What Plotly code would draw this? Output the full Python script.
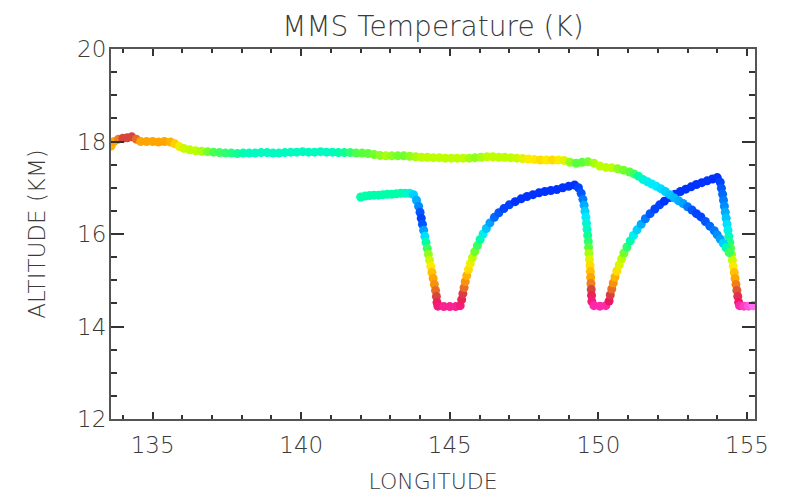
import plotly.graph_objects as go

# ---------------- data ----------------
upper_lon = [133.60, 133.70, 133.85, 134.00, 134.15, 134.30, 134.45, 134.60, 134.80, 135.00,
             135.20, 135.40, 135.60, 135.75, 135.90, 136.05, 136.25, 136.45, 136.65, 136.85,
             137.05, 137.25, 137.45, 137.65, 137.85, 138.05, 138.25, 138.45, 138.65, 138.85,
             139.05, 139.25, 139.45, 139.65, 139.85, 140.05, 140.25, 140.45, 140.65, 140.85,
             141.05, 141.25, 141.45, 141.65, 141.85, 142.05, 142.25, 142.45, 142.65, 142.85,
             143.05, 143.25, 143.45, 143.65, 143.85, 144.05, 144.25, 144.45, 144.65, 144.85,
             145.05, 145.25, 145.45, 145.65, 145.85, 146.05, 146.25, 146.45, 146.65, 146.85,
             147.05, 147.25, 147.45, 147.65, 147.85, 148.05, 148.25, 148.45, 148.65, 148.85,
             149.05, 149.25, 149.45, 149.65, 149.85, 150.05, 150.25, 150.45, 150.65, 150.85,
             151.05, 151.20, 151.35, 151.50, 151.65, 151.80, 151.95, 152.10, 152.25, 152.40,
             152.55, 152.70, 152.85, 153.00, 153.15, 153.30, 153.45, 153.60, 153.75, 153.90,
             154.00, 154.10, 154.20, 154.30, 154.40]
upper_alt = [17.90, 18.00, 18.05, 18.07, 18.08, 18.10, 18.05, 18.00, 18.00, 18.00,
             17.99, 18.00, 17.99, 17.95, 17.89, 17.85, 17.82, 17.80, 17.79, 17.78,
             17.77, 17.76, 17.75, 17.75, 17.74, 17.75, 17.75, 17.75, 17.76, 17.76,
             17.75, 17.75, 17.76, 17.77, 17.77, 17.78, 17.77, 17.77, 17.78, 17.77,
             17.77, 17.76, 17.76, 17.76, 17.75, 17.75, 17.74, 17.72, 17.70, 17.69,
             17.69, 17.69, 17.69, 17.68, 17.67, 17.66, 17.66, 17.65, 17.65, 17.64,
             17.64, 17.64, 17.64, 17.64, 17.65, 17.66, 17.67, 17.67, 17.66, 17.66,
             17.65, 17.64, 17.63, 17.62, 17.61, 17.60, 17.60, 17.60, 17.60, 17.59,
             17.55, 17.53, 17.55, 17.56, 17.53, 17.47, 17.44, 17.43, 17.41, 17.38,
             17.34, 17.30, 17.25, 17.18, 17.13, 17.08, 17.03, 16.98, 16.92, 16.85,
             16.78, 16.72, 16.66, 16.59, 16.52, 16.44, 16.37, 16.27, 16.17, 16.07,
             15.98, 15.89, 15.80, 15.70, 15.60]
upper_temp = [207.0, 207.5, 208.5, 210.0, 210.0, 210.0, 209.0, 207.5, 207.5, 207.5,
              207.5, 207.5, 207.0, 206.0, 204.5, 203.5, 203.0, 203.0, 202.5, 201.5,
              200.5, 200.0, 199.5, 199.0, 198.5, 198.0, 197.5, 197.5, 197.5, 197.5,
              197.5, 197.5, 197.5, 197.5, 197.5, 197.5, 197.5, 197.5, 197.5, 197.5,
              197.5, 198.0, 198.5, 199.5, 200.5, 201.0, 201.0, 201.5, 202.0, 202.5,
              202.0, 201.5, 201.5, 202.0, 202.5, 203.0, 203.0, 203.0, 203.0, 203.0,
              203.0, 203.0, 203.0, 202.5, 202.0, 202.5, 203.0, 203.0, 203.0, 203.0,
              203.0, 203.5, 204.0, 205.0, 205.0, 205.5, 205.0, 205.5, 205.0, 204.0,
              202.0, 201.0, 201.0, 201.5, 202.5, 203.0, 203.0, 203.0, 202.0, 201.5,
              201.0, 200.0, 198.0, 197.0, 196.5, 196.0, 196.0, 195.5, 195.0, 194.5,
              194.0, 193.5, 193.0, 192.0, 191.0, 190.5, 190.5, 191.0, 191.5, 192.0,
              192.5, 193.0, 195.0, 198.0, 200.0]

lower_lon = [142.00, 142.15, 142.30, 142.45, 142.60, 142.75, 142.90, 143.05, 143.20, 143.35,
             143.50, 143.65, 143.78, 143.88, 143.95, 144.00, 144.04, 144.08, 144.12, 144.16,
             144.20, 144.24, 144.28, 144.32, 144.36, 144.40, 144.44, 144.48, 144.52, 144.55,
             144.57, 144.60, 144.80, 145.00, 145.20, 145.35, 145.40, 145.44, 145.48, 145.52,
             145.57, 145.63, 145.69, 145.76, 145.84, 145.93, 146.02, 146.12, 146.23, 146.35,
             146.50, 146.65, 146.82, 147.00, 147.20, 147.40, 147.60, 147.80, 148.00, 148.20,
             148.40, 148.60, 148.80, 149.00, 149.20, 149.33, 149.42, 149.48, 149.52, 149.55,
             149.58, 149.60, 149.62, 149.64, 149.66, 149.67, 149.68, 149.70, 149.72, 149.73,
             149.74, 149.75, 149.76, 149.77, 149.78, 149.85, 150.05, 150.25, 150.36, 150.40,
             150.45, 150.50, 150.56, 150.62, 150.70, 150.78, 150.86, 150.96, 151.07, 151.18,
             151.30, 151.44, 151.58, 151.74, 151.90, 152.06, 152.22, 152.40, 152.58, 152.76,
             152.94, 153.12, 153.30, 153.48, 153.66, 153.84, 154.00, 154.10, 154.14, 154.18,
             154.21, 154.24, 154.27, 154.30, 154.33, 154.36, 154.39, 154.42, 154.45, 154.48,
             154.51, 154.54, 154.57, 154.60, 154.63, 154.66, 154.69, 154.72, 154.75, 154.90,
             155.05, 155.20, 155.25]
lower_alt = [16.80, 16.82, 16.83, 16.84, 16.84, 16.85, 16.86, 16.86, 16.87, 16.88,
             16.88, 16.88, 16.85, 16.73, 16.60, 16.47, 16.34, 16.21, 16.08, 15.95,
             15.82, 15.69, 15.56, 15.43, 15.30, 15.17, 15.04, 14.91, 14.78, 14.65,
             14.52, 14.44, 14.43, 14.43, 14.43, 14.45, 14.58, 14.71, 14.84, 14.97,
             15.10, 15.23, 15.36, 15.49, 15.62, 15.75, 15.88, 16.00, 16.12, 16.24,
             16.36, 16.46, 16.55, 16.63, 16.70, 16.76, 16.81, 16.85, 16.89, 16.92,
             16.94, 16.96, 17.00, 17.03, 17.06, 17.00, 16.88, 16.75, 16.62, 16.49,
             16.36, 16.23, 16.10, 15.97, 15.84, 15.71, 15.58, 15.45, 15.32, 15.19,
             15.06, 14.93, 14.80, 14.67, 14.54, 14.45, 14.44, 14.45, 14.55, 14.68,
             14.81, 14.94, 15.07, 15.20, 15.33, 15.46, 15.59, 15.72, 15.85, 15.97,
             16.09, 16.21, 16.33, 16.44, 16.54, 16.63, 16.71, 16.79, 16.86, 16.92,
             16.97, 17.02, 17.07, 17.11, 17.15, 17.19, 17.22, 17.12, 16.99, 16.86,
             16.73, 16.60, 16.47, 16.34, 16.21, 16.08, 15.95, 15.82, 15.69, 15.56,
             15.43, 15.30, 15.17, 15.04, 14.91, 14.78, 14.65, 14.52, 14.45, 14.44,
             14.44, 14.45, 14.45]
lower_temp = [198.0, 198.0, 198.0, 198.0, 198.0, 198.0, 198.0, 198.0, 198.0, 198.0,
              197.5, 197.0, 195.0, 193.5, 192.5, 191.0, 190.5, 191.0, 193.0, 195.5,
              198.0, 200.0, 202.0, 203.5, 205.0, 206.5, 207.5, 208.0, 209.0, 210.0,
              211.5, 212.5, 213.0, 213.0, 213.0, 212.5, 211.5, 210.5, 209.0, 208.0,
              207.0, 205.5, 204.5, 203.0, 201.5, 200.0, 198.0, 196.5, 194.5, 193.0,
              191.5, 191.0, 190.5, 190.5, 190.0, 190.0, 190.0, 190.0, 190.0, 190.0,
              190.0, 190.0, 190.0, 190.0, 190.0, 190.5, 191.0, 192.0, 193.5, 195.0,
              196.0, 197.0, 197.5, 198.5, 199.5, 201.0, 202.5, 204.0, 205.5, 206.5,
              207.5, 208.5, 210.0, 211.5, 212.5, 213.5, 213.5, 213.5, 212.0, 210.5,
              209.0, 208.0, 207.0, 205.5, 204.0, 203.0, 201.5, 199.5, 198.0, 196.5,
              195.0, 193.5, 192.0, 191.0, 190.5, 190.5, 190.0, 190.0, 190.0, 190.0,
              190.0, 190.0, 190.0, 190.0, 190.0, 190.0, 190.0, 190.5, 191.0, 191.5,
              192.0, 192.5, 193.5, 194.5, 195.5, 196.5, 197.5, 199.0, 200.5, 202.0,
              203.5, 205.0, 206.5, 207.5, 208.5, 209.5, 211.0, 212.0, 213.5, 214.0,
              214.5, 215.0, 215.0]

x_ticks = [135, 140, 145, 150, 155]
y_ticks = [12, 14, 16, 18, 20]
title_text = "MMS Temperature (K)"
x_title = "LONGITUDE"
y_title = "ALTITUDE (KM)"

# ---------------- style ----------------
temp_scale = [
    [0.00, "rgb(0,50,255)"],
    [0.12, "rgb(0,160,255)"],
    [0.24, "rgb(0,235,255)"],
    [0.32, "rgb(0,255,170)"],
    [0.44, "rgb(90,255,60)"],
    [0.52, "rgb(190,255,0)"],
    [0.60, "rgb(255,235,0)"],
    [0.70, "rgb(255,165,0)"],
    [0.80, "rgb(215,70,60)"],
    [0.88, "rgb(240,20,100)"],
    [0.94, "rgb(255,40,170)"],
    [1.00, "rgb(255,110,240)"],
]
FONT = "DejaVu Sans"
TXT = "#3a3a3a"

fig = go.Figure()
for lon, alt, tmp in [(lower_lon, lower_alt, lower_temp), (upper_lon, upper_alt, upper_temp)]:
    fig.add_trace(go.Scatter(
        x=lon, y=alt, mode="markers",
        marker=dict(size=9, color=tmp, colorscale=temp_scale, cmin=190, cmax=215,
                    showscale=False, line=dict(width=0)),
        hoverinfo="x+y", showlegend=False,
    ))

axis_common = dict(
    showline=True, linecolor="#555555", linewidth=2, mirror="ticks",
    ticks="inside", tickcolor="#333333", tickwidth=1.5,
    showgrid=False, zeroline=False, automargin=False,
    tickfont=dict(family=FONT, size=23, color=TXT, weight=200),
)
# the page body adds an 8px offset, so margins are shifted to keep the plot frame in place
fig.update_layout(
    width=787, height=497,
    margin=dict(l=103, r=40, t=41, b=86),
    paper_bgcolor="white", plot_bgcolor="white",
    title=dict(text=title_text, x=0.5, xref="paper", xanchor="center",
               y=1 - 18 / 497, yref="container", yanchor="middle",
               font=dict(family=FONT, size=28, color=TXT, weight=200)),
    xaxis=dict(range=[133.6, 155.27], tickvals=x_ticks, ticklen=7,
               minor=dict(dtick=1, tick0=135, ticklen=4, ticks="inside", tickcolor="#333333"),
               title=dict(text=x_title, standoff=17,
                          font=dict(family=FONT, size=22, color=TXT, weight=200)),
               ticklabelstandoff=4,
               **axis_common),
    yaxis=dict(range=[12, 20], tickvals=y_ticks, ticklen=13,
               minor=dict(dtick=0.5, tick0=12, ticklen=6, ticks="inside", tickcolor="#333333"),
               title=dict(text=y_title, standoff=25,
                          font=dict(family=FONT, size=23, color=TXT, weight=200)),
               ticklabelstandoff=-2,
               **axis_common),
)

fig.write_html("out.html")
